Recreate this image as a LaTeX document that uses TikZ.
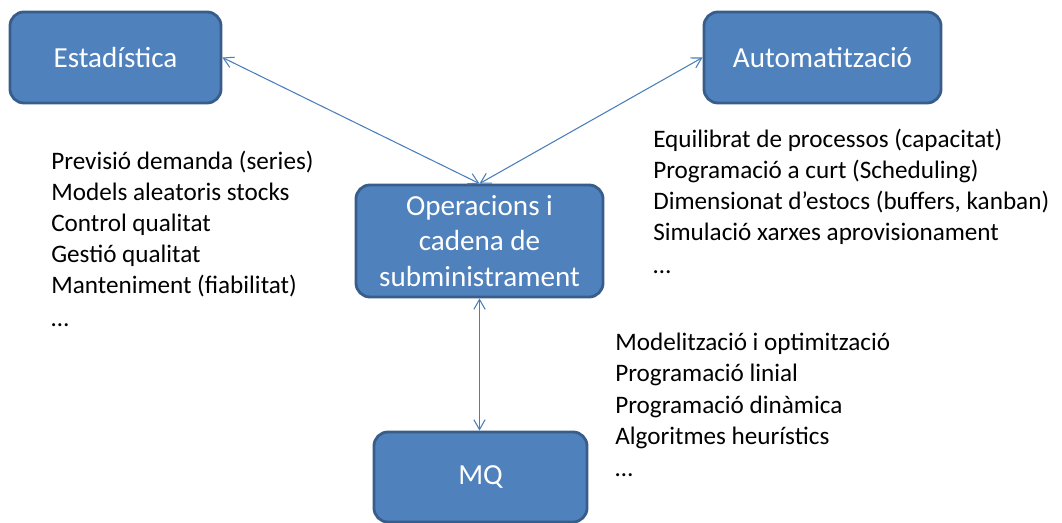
\documentclass[tikz,border=0pt]{standalone}
\usepackage{fontspec}
\setmainfont{Carlito}
\usetikzlibrary{arrows.meta}
\definecolor{boxfill}{HTML}{4F81BD}
\definecolor{boxline}{HTML}{385D8A}
\definecolor{linkcol}{HTML}{4A7EBB}

\begin{document}
\begin{tikzpicture}[x=0.025cm,y=-0.025cm,line join=round,
	box/.style={draw=boxline,line width=2pt,fill=boxfill,rounded corners=0.35cm,text=white,align=center,inner sep=0pt,font=\fontsize{20.7}{25}\selectfont},
	item/.style={anchor=base west,inner sep=0pt,font=\fontsize{17.9}{20}\selectfont},
	link/.style={draw=linkcol,line width=0.75pt,{Straight Barb[length=7pt,width=8pt]}-{Straight Barb[length=7pt,width=8pt]}}]
			\useasboundingbox (0,0) rectangle (1062,523);
			% boxes
			\node[box,minimum width=5.275cm,minimum height=2.275cm] (est) at (115.5,57.5) {Estadística};
			\node[box,minimum width=5.925cm,minimum height=2.275cm] (aut) at (822.5,57.5) {Automatització};
			\node[box,minimum width=6.175cm,minimum height=2.8cm] (op) at (479.5,241) {Operacions i\\cadena de\\subministrament};
			\node[box,minimum width=5.325cm,minimum height=2.25cm] (mq) at (480.5,477) {MQ};
			% links
			\draw[link] (est.east) -- (op.north);
			\draw[link] (aut.west) -- (op.north);
			\draw[link] (op.south) -- (op.south |- mq.north);
			% lists
			\foreach \t/\y [count=\i] in {Previsió demanda (series)/170,Models aleatoris stocks/201,Control qualitat/232,Gestió qualitat/263,Manteniment (fiabilitat)/294,…/327}{\node[item] (e\i) at (51,\y) {\t};}
			\foreach \t/\y [count=\i] in {Equilibrat de processos (capacitat)/148,Programació a curt (Scheduling)/179,Dimensionat d’estocs (buffers{,} kanban)/210,Simulació xarxes aprovisionament/241,…/274}{\node[item] (a\i) at (653,\y) {\t};}
			\foreach \t/\y [count=\i] in {Modelització i optimització/351,Programació linial/382,Programació dinàmica/413,Algoritmes heurístics/444,…/476}{\node[item] (m\i) at (615,\y) {\t};}
		\end{tikzpicture}
\end{document}
